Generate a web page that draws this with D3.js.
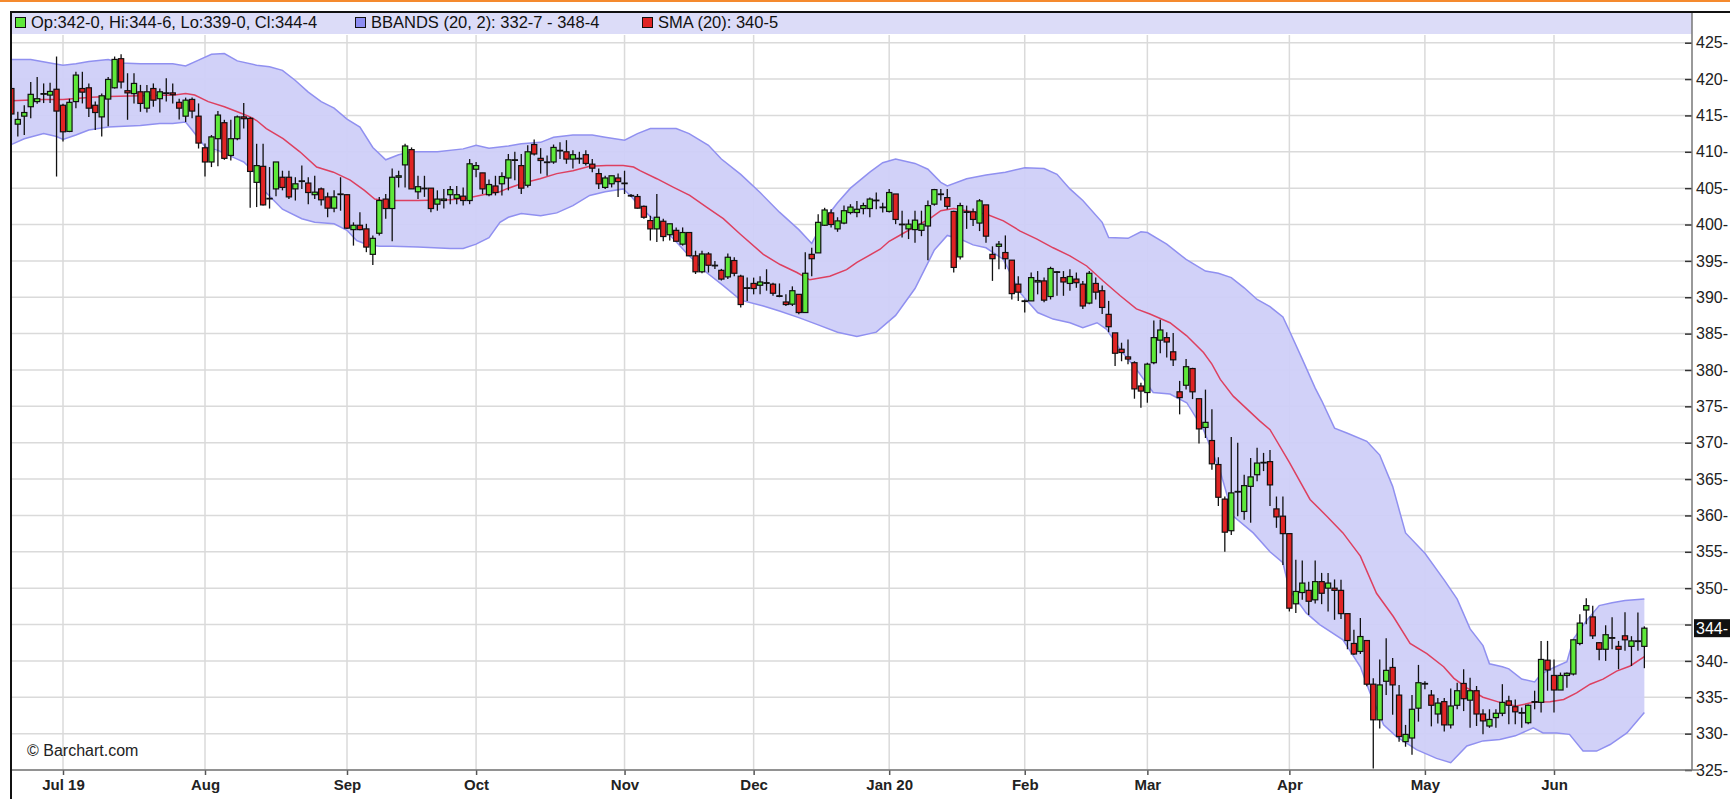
<!DOCTYPE html>
<html>
<head>
<meta charset="utf-8">
<script src="https://cdn.jsdelivr.net/npm/d3@7/dist/d3.min.js"></script>
<style>
  body { margin: 0; background: #fff; }
  svg { display: block; font-family: "Liberation Sans", Arial, sans-serif; }
</style>
</head>
<body>
<div id="chart"></div>
<script>
// trading-day index of the first candle (0 = Jul 1 2019)
const firstDay = -8;

const opens = [
  418.7, 413.8, 414.9, 416.2, 416.9, 418.0, 417.8, 418.6,
  416.4, 412.8, 416.9, 418.7, 418.8, 416.4, 414.8, 417.25, 418.8, 422.8,
  418.4, 418.0, 418.25, 416.0, 418.7, 417.3, 418.1, 418.1, 416.8, 414.9,
  417.2, 414.9, 410.55, 408.6, 411.8, 414.0, 409.5, 411.8, 414.8, 414.6,
  405.8, 408.0, 403.6, 404.9, 406.5, 406.5, 404.9, 406.0, 405.7, 404.1,
  404.9, 403.8, 402.25, 404.2, 404.1, 399.3, 399.9, 399.4, 395.9, 398.8,
  403.5, 402.2, 406.5, 408.2, 410.3, 404.5, 405.0, 405.0, 402.8, 403.3,
  404.1, 403.6, 403.9, 403.3, 407.6, 407.1, 404.1, 405.3, 405.6, 406.4,
  408.9, 408.1, 405.4, 411.0, 409.1, 408.6, 408.6, 410.2, 410.0, 409.0,
  409.1, 409.6, 408.3, 407.0, 405.1, 405.6, 406.4, 405.7, 404.0, 403.85,
  402.5, 400.55, 399.4, 400.45, 398.6, 399.2, 397.3, 398.9, 395.7, 393.5,
  395.95, 394.4, 393.7, 392.8, 395.05, 392.9, 391.3, 391.9, 391.65, 392.0,
  391.8, 390.2, 389.35, 389.05, 390.4, 387.9, 395.9, 396.1, 399.9, 401.6,
  399.4, 400.2, 401.65, 401.65, 402.2, 402.2, 403.35, 402.4, 401.8, 404.2,
  400.05, 399.4, 399.3, 399.2, 399.8, 402.8, 404.2, 403.7, 401.8, 395.55,
  401.75, 401.75, 400.2, 402.7, 395.9, 397.0, 396.15, 395.1, 391.8, 389.5,
  389.5, 392.1, 392.25, 390.1, 393.5, 392.7, 391.9, 392.5, 391.8, 389.2,
  391.9, 390.9, 387.65, 385.1, 382.85, 381.8, 381.0, 377.8, 376.9, 381.0,
  384.1, 384.45, 382.5, 377.0, 377.9, 380.2, 376.05, 372.1, 370.3, 367.0,
  362.25, 357.9, 363.3, 360.55, 364.0, 365.6, 367.3, 367.4, 360.9, 359.9,
  357.5, 347.85, 349.4, 349.7, 348.4, 350.9, 350.0, 350.0, 349.7, 346.5,
  342.4, 341.3, 342.8, 336.8, 331.9, 337.2, 339.1, 335.3, 328.9, 329.4,
  333.5, 336.9, 335.3, 332.7, 334.4, 331.2, 333.9, 336.9, 334.6, 335.9,
  332.7, 331.05, 332.2, 332.8, 334.5, 333.7, 332.9, 331.5, 334.4, 334.3,
  340.1, 338.0, 336.0, 338.0, 338.2, 342.4, 347.0, 346.05, 342.5, 341.6,
  343.2, 342.0, 343.45, 342.0, 342.75, 342.0
];
const highs = [
  419.2, 415.5, 416.4, 419.6, 420.3, 419.4, 419.5, 423.1,
  416.6, 417.3, 421.0, 421.0, 419.4, 416.9, 418.0, 420.3, 423.1, 423.4,
  420.8, 420.8, 419.2, 419.2, 419.4, 418.7, 420.1, 419.4, 417.3, 417.45,
  417.45, 416.65, 411.15, 412.3, 415.6, 414.4, 414.4, 415.0, 416.7, 414.8,
  411.1, 411.1, 407.9, 408.6, 407.4, 407.4, 406.5, 408.1, 406.5, 406.7,
  405.1, 404.4, 404.7, 406.5, 404.2, 400.3, 401.7, 400.1, 398.5, 403.8,
  404.2, 407.7, 407.4, 411.1, 410.6, 406.7, 406.7, 405.0, 404.7, 404.9,
  405.3, 405.3, 405.1, 409.0, 408.6, 407.1, 406.2, 406.7, 407.2, 409.7,
  410.0, 409.7, 410.9, 411.7, 410.5, 409.5, 411.0, 411.3, 411.6, 410.2,
  410.0, 410.2, 409.0, 407.7, 406.7, 406.7, 407.0, 407.4, 404.2, 404.2,
  402.6, 401.2, 404.2, 400.8, 400.1, 399.6, 399.6, 398.9, 396.4, 396.4,
  396.2, 395.0, 393.9, 396.0, 395.5, 393.1, 392.7, 392.7, 392.9, 393.85,
  392.0, 391.9, 390.4, 391.5, 390.4, 396.2, 396.8, 401.4, 402.3, 402.1,
  401.0, 402.6, 402.8, 403.25, 403.0, 403.7, 404.4, 403.0, 404.9, 404.2,
  401.9, 400.7, 401.9, 401.9, 403.3, 404.9, 404.9, 404.9, 401.9, 403.0,
  402.6, 402.2, 403.5, 402.7, 397.0, 397.75, 398.5, 395.1, 392.9, 389.7,
  393.4, 393.6, 392.7, 394.2, 393.6, 393.6, 393.85, 393.4, 392.25, 393.6,
  392.7, 391.6, 389.5, 385.1, 383.75, 384.2, 381.2, 378.25, 381.0, 386.8,
  386.9, 385.2, 385.1, 378.5, 381.5, 380.3, 376.05, 377.3, 374.6, 368.0,
  362.6, 370.8, 370.0, 365.6, 367.9, 369.3, 368.6, 369.0, 362.6, 362.6,
  357.5, 353.9, 353.8, 350.9, 353.8, 352.1, 352.1, 351.2, 351.15, 346.5,
  344.3, 345.9, 342.8, 337.6, 340.2, 343.1, 340.4, 336.7, 331.2, 335.3,
  339.45, 337.2, 336.0, 334.9, 334.9, 336.2, 337.0, 338.85, 337.7, 336.55,
  333.35, 333.35, 333.35, 336.8, 335.2, 334.7, 333.6, 334.0, 335.9, 342.75,
  342.75, 340.2, 338.4, 338.4, 342.9, 346.4, 348.6, 347.6, 342.6, 344.9,
  346.0, 342.75, 346.7, 343.4, 346.65, 344.75
];
const lows = [
  414.5, 412.1, 412.3, 414.6, 416.6, 416.7, 416.7, 406.6,
  411.4, 412.7, 416.0, 416.65, 414.8, 413.0, 412.1, 413.5, 418.7, 418.7,
  414.4, 416.65, 415.5, 415.4, 416.2, 415.4, 416.9, 416.65, 414.45, 414.1,
  414.6, 410.45, 406.6, 407.9, 408.0, 408.9, 408.8, 411.6, 413.2, 402.3,
  402.4, 402.6, 402.2, 403.9, 404.7, 403.5, 403.3, 404.9, 402.8, 403.5,
  402.6, 401.0, 401.7, 401.9, 399.4, 397.1, 399.2, 396.2, 394.45, 398.5,
  400.8, 397.7, 405.1, 405.1, 404.9, 403.5, 403.8, 401.7, 401.9, 402.2,
  402.8, 402.8, 402.6, 402.8, 406.5, 404.2, 403.9, 404.0, 404.0, 404.7,
  406.1, 404.2, 405.1, 409.5, 407.0, 406.7, 408.35, 409.0, 408.35, 407.7,
  408.35, 408.1, 407.2, 404.9, 404.9, 405.1, 403.8, 404.2, 403.8, 402.2,
  400.8, 397.8, 397.6, 397.7, 397.8, 397.7, 397.1, 395.7, 393.2, 393.3,
  393.4, 393.9, 392.3, 392.5, 392.9, 388.6, 389.5, 390.4, 390.4, 390.9,
  390.2, 390.0, 388.8, 388.8, 387.65, 387.9, 392.9, 396.1, 399.8, 399.6,
  399.0, 400.05, 401.4, 401.0, 401.4, 401.0, 402.1, 401.65, 401.65, 400.05,
  398.2, 398.0, 397.5, 398.4, 395.1, 402.6, 403.3, 402.1, 393.4, 395.2,
  399.4, 399.8, 399.1, 397.5, 392.25, 393.85, 393.85, 389.7, 389.5, 387.9,
  389.5, 390.4, 389.3, 389.7, 390.2, 390.2, 390.9, 391.3, 388.4, 389.05,
  389.7, 387.7, 385.2, 380.55, 381.2, 380.8, 376.05, 374.8, 375.5, 380.8,
  382.3, 381.7, 380.55, 373.9, 377.3, 376.0, 369.9, 370.65, 366.3, 361.3,
  355.0, 357.3, 359.9, 359.4, 359.0, 364.7, 366.1, 361.3, 358.3, 353.2,
  346.8, 346.6, 348.4, 346.3, 347.9, 347.8, 346.8, 345.65, 345.75, 341.6,
  340.8, 340.95, 336.5, 325.2, 330.7, 335.3, 332.6, 328.9, 328.2, 327.1,
  331.65, 336.1, 331.0, 331.4, 330.3, 330.7, 333.35, 333.1, 330.8, 331.05,
  329.9, 330.8, 330.8, 332.4, 331.3, 331.3, 330.8, 331.3, 333.35, 332.9,
  335.9, 332.9, 336.0, 336.3, 338.0, 342.15, 345.05, 343.0, 340.1, 340.0,
  341.6, 338.85, 341.4, 339.3, 341.4, 339.0
];
const closes = [
  415.2, 414.45, 415.4, 417.9, 417.3, 418.0, 418.3, 415.6,
  412.75, 416.8, 420.55, 418.2, 416.0, 415.4, 417.7, 419.95, 422.7, 419.6,
  418.1, 419.4, 416.65, 418.25, 417.1, 418.25, 418.1, 417.85, 416.0, 417.1,
  415.6, 411.2, 408.6, 412.05, 415.05, 409.1, 411.8, 414.8, 414.55, 407.3,
  408.1, 402.7, 403.6, 408.6, 405.1, 403.8, 405.6, 406.0, 404.4, 404.45,
  403.4, 402.25, 403.8, 404.2, 399.5, 399.9, 399.3, 396.9, 398.1, 403.3,
  402.2, 406.5, 406.7, 410.8, 404.9, 405.2, 405.0, 402.2, 403.5, 403.5,
  404.8, 404.1, 403.3, 408.35, 408.1, 404.9, 405.5, 404.4, 406.6, 408.9,
  408.9, 405.0, 410.0, 409.7, 408.8, 408.6, 410.6, 410.2, 409.0, 409.6,
  409.1, 408.4, 407.75, 405.6, 406.4, 406.7, 405.9, 405.7, 404.0, 402.25,
  401.0, 399.4, 401.0, 398.35, 400.1, 397.7, 398.9, 395.7, 393.5, 395.95,
  394.4, 394.4, 392.5, 395.5, 393.3, 389.0, 391.3, 391.2, 392.1, 392.0,
  390.55, 390.2, 389.0, 390.9, 387.9, 393.3, 395.3, 400.3, 402.0, 400.0,
  400.5, 401.9, 402.4, 402.1, 402.6, 403.5, 403.35, 402.4, 404.4, 400.7,
  400.05, 400.05, 400.6, 400.05, 402.6, 404.8, 404.2, 402.5, 394.1, 402.6,
  401.75, 400.7, 403.25, 398.4, 395.3, 397.3, 395.3, 390.5, 390.7, 389.5,
  392.7, 392.3, 389.6, 393.95, 393.5, 392.1, 392.85, 392.0, 388.8, 393.3,
  390.7, 388.6, 385.95, 382.3, 382.4, 381.5, 377.4, 377.1, 380.8, 384.45,
  385.5, 383.85, 381.4, 376.2, 380.45, 377.0, 371.9, 372.8, 367.1, 362.5,
  357.7, 363.1, 363.3, 364.1, 365.3, 367.2, 367.3, 364.2, 359.8, 357.5,
  347.25, 349.55, 350.7, 348.2, 350.9, 349.3, 350.7, 349.7, 346.5, 342.8,
  340.95, 343.35, 336.8, 331.9, 336.7, 338.7, 336.7, 329.6, 329.9, 333.35,
  337.0, 336.9, 333.9, 334.2, 331.2, 333.8, 335.9, 334.8, 335.9, 332.7,
  331.75, 331.95, 332.8, 334.3, 333.9, 333.0, 332.9, 333.9, 334.4, 340.2,
  338.75, 336.0, 338.0, 338.3, 342.9, 345.2, 347.6, 343.45, 341.6, 343.6,
  343.2, 341.6, 342.9, 342.75, 342.75, 344.5
];

// [trading day, value]
const upperBand = [[-8,422.7],[-5,422.7],[-2,422.2],[0,421.9],[2,422.1],[4,422.4],[7,422.7],[9,422.2],[12,422.1],[17,422.1],[19,421.8],[21,422.6],[23,423.4],[25,423.5],[27,422.5],[30,421.9],[32,421.7],[34,421.2],[36,419.8],[38,418.2],[40,416.9],[42,416.0],[44,414.5],[46,413.4],[48,410.6],[50,408.9],[52,409.6],[54,410.0],[58,410.0],[62,410.4],[64,410.9],[66,410.5],[69,410.8],[71,411.1],[74,411.3],[76,412.0],[79,412.3],[82,412.3],[84,412.0],[87,411.6],[89,412.5],[91,413.2],[95,413.2],[97,412.5],[100,410.9],[102,409.0],[105,406.9],[108,404.4],[111,401.7],[114,399.3],[116,397.4],[118,400.7],[120,403.0],[122,405.0],[125,407.2],[127,408.5],[129,409.0],[132,408.4],[134,407.6],[136,405.8],[137,405.3],[140,406.3],[143,406.8],[146,407.2],[149,407.8],[152,407.7],[154,406.9],[156,404.9],[158,403.3],[161,400.3],[162,398.2],[165,398.1],[167,399.0],[168,398.9],[171,397.3],[174,395.2],[177,393.6],[179,393.3],[181,392.7],[183,391.3],[185,389.7],[187,388.7],[189,387.3],[190,385.4],[192,381.5],[194,377.5],[195,375.8],[197,372.0],[199,371.3],[202,370.2],[204,368.3],[206,364.0],[208,357.6],[211,354.8],[214,351.1],[216,348.5],[218,344.4],[220,342.1],[221,339.6],[223,339.2],[224,338.9],[226,337.5],[228,337.1],[229,338.2],[231,339.1],[233,339.9],[234,343.0],[236,345.5],[238,347.6],[240,348.0],[242,348.3],[245,348.5]];
const lowerBand = [[-8,411.0],[-6,411.8],[-3,412.5],[-1,412.1],[0,411.7],[2,412.3],[4,413.0],[7,413.4],[12,413.6],[15,413.9],[17,413.9],[19,414.1],[20,413.0],[22,410.7],[24,410.2],[27,409.0],[28,408.6],[30,406.9],[31,404.8],[34,402.1],[37,400.8],[39,400.3],[42,400.1],[44,399.2],[45.5,397.8],[47,397.3],[49,397.0],[51,397.0],[55,396.9],[60,396.7],[62,396.7],[64,397.3],[66,398.2],[67.7,400.3],[69,401.0],[71,401.5],[74,401.2],[76.5,401.6],[79,402.6],[81.6,404.0],[84,404.5],[86.8,404.9],[88,403.9],[89.4,402.4],[92,400.3],[94.6,398.0],[97,395.7],[99.7,393.4],[102.3,391.6],[105,389.6],[108.5,388.8],[111,388.1],[114,387.2],[117,386.2],[120,385.2],[123,384.6],[126,385.2],[129,387.5],[132,391.2],[135,396.5],[137,398.5],[139,398.0],[141,397.2],[143,396.8],[145.7,395.2],[148.3,390.6],[151,387.9],[153.4,387.0],[156,386.5],[158,385.8],[160.2,386.5],[161.7,385.6],[163.8,382.8],[166.3,380.1],[168.9,376.9],[171.5,376.7],[174.1,375.5],[176.7,371.8],[179.3,366.0],[181.3,359.9],[184.4,357.6],[187,355.0],[189,353.5],[190,349.8],[192.6,346.6],[194.7,345.0],[198.3,342.9],[201,339.2],[202.5,335.6],[204.6,331.2],[206.6,329.6],[209.7,327.8],[212.8,326.6],[215,326.0],[217.5,328.3],[220,329.0],[222.6,329.2],[225,329.7],[227.8,330.8],[229.3,330.1],[231.4,330.1],[233.4,329.9],[235.5,327.6],[237.6,327.6],[239.7,328.5],[242.3,330.1],[245,332.9]];
const sma20 = [[-8,417.0],[-3,417.2],[0,417.2],[4.4,417.5],[7,417.6],[12,417.7],[17.3,417.8],[19,418.0],[20.4,417.8],[22.5,416.9],[25,416.2],[27.6,415.3],[29,414.8],[30,414.3],[31.5,413.2],[34.1,411.8],[36.7,410.0],[39.3,407.9],[41.9,407.2],[44.5,406.1],[46.7,404.7],[48.3,403.5],[49.6,403.3],[55,403.3],[60,403.4],[62.5,403.6],[65.1,404.1],[67.7,404.5],[68.7,404.9],[71.3,405.7],[73.9,406.3],[76.5,407.0],[79,407.4],[81.6,408.0],[84.2,408.1],[86.8,408.1],[88.4,407.9],[89.4,407.4],[92,406.3],[94.6,405.1],[97.1,404.0],[99.7,402.4],[102.3,400.8],[104.9,398.7],[108.5,395.9],[111.1,394.5],[113.7,393.4],[115.7,392.4],[118.8,392.9],[121.4,393.8],[123,394.8],[126.6,396.6],[128,397.7],[130,398.7],[132,399.7],[134.3,400.8],[136,401.9],[138,402.2],[140,401.9],[143.1,401.4],[145.7,400.5],[148.3,399.1],[150.9,398.0],[153.4,396.8],[156,395.7],[158.6,394.3],[161.2,392.2],[163.8,390.2],[166.3,388.4],[168.4,387.7],[171.5,386.5],[174.1,384.7],[176.7,382.4],[178,380.8],[179.3,378.7],[181.3,376.4],[185.4,373.0],[187,371.8],[190,367.3],[193.2,362.2],[195.8,359.9],[198.3,357.6],[201,354.4],[203.5,349.3],[206.1,346.1],[208.7,342.4],[211.3,341.0],[213.9,339.2],[215.5,337.6],[217.5,336.3],[220,335.0],[222.6,334.3],[225.1,333.8],[227.8,334.3],[230.4,334.4],[232.5,334.7],[234.5,335.6],[236.6,336.8],[238.6,337.5],[240.7,338.6],[242.8,339.3],[245,340.6]];

const monthLabels = ["Jul 19", "Aug", "Sep", "Oct", "Nov", "Dec", "Jan 20", "Feb", "Mar", "Apr", "May", "Jun"];
const monthStarts = [0, 22, 44, 64, 87, 107, 128, 149, 168, 190, 211, 231];
const priceTicks = d3.range(325, 426, 5);
const legendItems = [
  { label: "Op:342-0, Hi:344-6, Lo:339-0, Cl:344-4", color: "#5ee83a", x: 15 },
  { label: "BBANDS (20, 2): 332-7 - 348-4", color: "#8c8cf2", x: 355 },
  { label: "SMA (20): 340-5", color: "#e02424", x: 642 }
];
const lastPrice = 344.5;

const W = 1730, H = 799;
const plotL = 12, plotR = 1692, plotT = 35, plotB = 770;

const x = d3.scaleLinear().domain([0, 231]).range([63, 1554]);
const y = d3.scaleLinear().domain([325, 425]).range([770, 42.7]);

const candles = opens.map((o, k) => ({ day: firstDay + k, o, h: highs[k], l: lows[k], c: closes[k] }));

const svg = d3.select("#chart").append("svg")
  .attr("width", W)
  .attr("height", H);

svg.append("rect").attr("width", W).attr("height", H).attr("fill", "#fff");
svg.append("rect").attr("width", W).attr("height", 2).attr("fill", "#f58a2e");

svg.append("clipPath").attr("id", "plot")
  .append("rect")
  .attr("x", plotL).attr("y", plotT)
  .attr("width", plotR - plotL).attr("height", plotB - plotT);

// grid
svg.append("g")
  .selectAll("line")
  .data(priceTicks)
  .enter()
  .append("line")
  .attr("x1", plotL).attr("x2", plotR)
  .attr("y1", d => y(d)).attr("y2", d => y(d))
  .attr("stroke", "#dadada")
  .attr("stroke-width", 1.5);

svg.append("g")
  .selectAll("line")
  .data(monthStarts)
  .enter()
  .append("line")
  .attr("x1", d => x(d)).attr("x2", d => x(d))
  .attr("y1", plotT).attr("y2", plotB)
  .attr("stroke", "#dadada")
  .attr("stroke-width", 1.5);

const plot = svg.append("g").attr("clip-path", "url(#plot)");

// bollinger band
const line = d3.line().x(d => x(d[0])).y(d => y(d[1]));
plot.append("path")
  .attr("d", line(upperBand.concat(lowerBand.slice().reverse())) + "Z")
  .attr("fill", "#cfcff8")
  .attr("fill-opacity", 0.95);

[upperBand, lowerBand].forEach(b => {
  plot.append("path")
    .attr("d", line(b))
    .attr("fill", "none")
    .attr("stroke", "#9090f0")
    .attr("stroke-width", 1.5);
});

plot.append("path")
  .attr("d", line(sma20))
  .attr("fill", "none")
  .attr("stroke", "#dd4060")
  .attr("stroke-width", 1.5);

// candles
const cg = plot.append("g")
  .selectAll("g")
  .data(candles)
  .enter()
  .append("g");

cg.append("line")
  .attr("x1", d => x(d.day)).attr("x2", d => x(d.day))
  .attr("y1", d => y(d.h)).attr("y2", d => y(d.l))
  .attr("stroke", "#111")
  .attr("stroke-width", 1.3);

cg.append("rect")
  .attr("x", d => x(d.day) - 2.6)
  .attr("width", 5.2)
  .attr("y", d => y(Math.max(d.o, d.c)))
  .attr("height", d => Math.max(0.6, Math.abs(y(d.o) - y(d.c))))
  .attr("fill", d => d.c > d.o ? "#5ee83a" : d.c < d.o ? "#e02424" : "#111")
  .attr("stroke", "#111")
  .attr("stroke-width", 1.2);

// legend
svg.append("rect")
  .attr("x", plotL).attr("y", 12)
  .attr("width", plotR - plotL).attr("height", 22)
  .attr("fill", "#dcdcf8");

const lg = svg.append("g")
  .selectAll("g")
  .data(legendItems)
  .enter()
  .append("g");

lg.append("rect")
  .attr("x", d => d.x + 0.5).attr("y", 17.5)
  .attr("width", 10).attr("height", 10)
  .attr("fill", d => d.color)
  .attr("stroke", "#111");

lg.append("text")
  .attr("x", d => d.x + 16)
  .attr("y", 28)
  .attr("font-size", 16.5)
  .attr("fill", "#111")
  .text(d => d.label);

// axes (the 345 label sits under the last-price tag)
const yAxis = svg.append("g")
  .attr("transform", `translate(${plotR},0)`)
  .call(d3.axisRight(y).tickValues(priceTicks).tickSize(-7).tickPadding(4)
    .tickFormat(d => Math.abs(d - lastPrice) < 3 ? "" : d + "-"));
yAxis.select(".domain").remove();
yAxis.selectAll("line").attr("stroke", "#333").attr("stroke-width", 1.5);
yAxis.selectAll("text").attr("font-size", 16).attr("fill", "#222").attr("font-family", "Liberation Sans, Arial, sans-serif");

const xAxis = svg.append("g")
  .attr("transform", `translate(0,${plotB})`)
  .call(d3.axisBottom(x).tickValues(monthStarts).tickSize(5).tickPadding(4).tickFormat((d, i) => monthLabels[i]));
xAxis.select(".domain").remove();
xAxis.selectAll("line").attr("stroke", "#555").attr("stroke-width", 1.5);
xAxis.selectAll("text").attr("font-size", 15).attr("font-weight", "bold").attr("fill", "#222").attr("font-family", "Liberation Sans, Arial, sans-serif");

svg.append("line")
  .attr("x1", plotL).attr("x2", plotR + 7)
  .attr("y1", plotB).attr("y2", plotB)
  .attr("stroke", "#777").attr("stroke-width", 1.5);
svg.append("line")
  .attr("x1", plotR).attr("x2", plotR)
  .attr("y1", 12).attr("y2", plotB)
  .attr("stroke", "#777").attr("stroke-width", 1.5);

// frame
svg.append("line")
  .attr("x1", 10).attr("x2", W)
  .attr("y1", 12).attr("y2", 12)
  .attr("stroke", "#111").attr("stroke-width", 2);
svg.append("line")
  .attr("x1", 11).attr("x2", 11)
  .attr("y1", 11).attr("y2", H)
  .attr("stroke", "#111").attr("stroke-width", 2);

// last price tag
svg.append("rect")
  .attr("x", plotR + 2).attr("y", y(lastPrice) - 9)
  .attr("width", W - plotR - 2).attr("height", 18)
  .attr("fill", "#111");
svg.append("text")
  .attr("x", plotR + 4).attr("y", y(lastPrice) + 6)
  .attr("font-size", 16)
  .attr("fill", "#fff")
  .text(Math.floor(lastPrice) + "-");

svg.append("text")
  .attr("x", 27).attr("y", 756)
  .attr("font-size", 16)
  .attr("fill", "#222")
  .text("© Barchart.com");
</script>
</body>
</html>
